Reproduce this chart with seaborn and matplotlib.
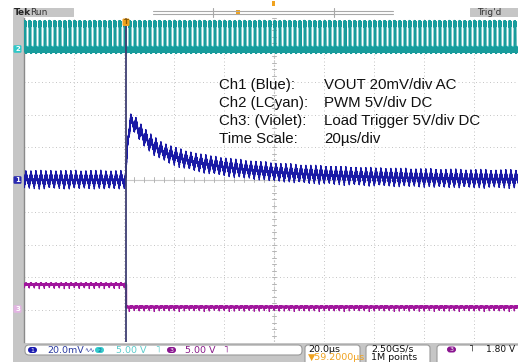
import numpy as np
import matplotlib
matplotlib.use("Agg")
import matplotlib.pyplot as plt
from matplotlib.patches import FancyBboxPatch, Rectangle
import seaborn as sns

# ---------------- values ----------------
time_per_div_us = 20.0
n_xdiv = 10
n_ydiv = 10
trigger_from_left_us = 40.8          # trigger sits 59.2 us left of centre
pwm_period_us = 2.0
pwm_duty = 0.30

ch1_scale_mv = 20.0
ch1_offset_div = 0.0
ch1_ripple_mv = 3.6
ch1_ring_mv = 2.4
ch1_step_amp_mv = [26.0, 21.0]
ch1_step_tau_us = [6.8, 40.0]
ch1_rise_tau_us = 0.9

ch2_scale_v = 5.0
ch2_offset_div = 4.0
ch2_high_v = 4.0
ch2_ring_v = 0.55

ch3_scale_v = 5.0
ch3_offset_div = -4.0
ch3_levels_v = [3.9, 0.4]            # before / after the load trigger
ch3_ring_v = 0.22
ch3_glitch_v = 0.55

annotation_labels = ["Ch1 (Blue):", "Ch2 (LCyan):", "Ch3: (Violet):", "Time Scale:"]
annotation_values = ["VOUT 20mV/div AC", "PWM 5V/div DC", "Load Trigger 5V/div DC", "20\u00b5s/div"]

readout_ch1 = "20.0mV"
readout_ch2 = "5.00 V"
readout_ch3 = "5.00 V"
readout_time = ["20.0\u00b5s", "\u25bc59.2000\u00b5s"]
readout_rate = ["2.50GS/s", "1M points"]
readout_trig = "1.80 V"

# colours
C_BLUE = "#1a1aa6"
C_CYAN = "#189c9c"
C_CYAN_LT = "#45dcdc"
C_VIOLET = "#a0159c"
C_GRAY = "#c6c6c6"
C_ORANGE = "#f0a21e"

# ---------------- waveforms ----------------
dt = 0.01
t = np.arange(-trigger_from_left_us, n_xdiv * time_per_div_us - trigger_from_left_us + dt, dt)
ph = np.mod(t + 0.7, pwm_period_us) / pwm_period_us
since_on = ph * pwm_period_us
since_off = np.mod(ph - pwm_duty, 1.0) * pwm_period_us
since_edge = np.minimum(since_on, since_off)
ring_fast = (0.35 + 0.65 * np.exp(-since_edge / 0.4)) * np.sin(2 * np.pi * t / 0.033)
ring_slow = (0.5 + 0.5 * np.exp(-since_edge / 0.6)) * np.sin(2 * np.pi * t / 0.047)

tri = np.where(ph < pwm_duty, -1 + 2 * ph / pwm_duty, 1 - 2 * (ph - pwm_duty) / (1 - pwm_duty))
tp = np.clip(t, 0, None)
step = (ch1_step_amp_mv[0] * np.exp(-tp / ch1_step_tau_us[0]) +
        ch1_step_amp_mv[1] * np.exp(-tp / ch1_step_tau_us[1])) * (1 - np.exp(-tp / ch1_rise_tau_us))
step = np.where(t >= 0, step, 0.0)
ch1_mv = ch1_ripple_mv * tri + ch1_ring_mv * ring_fast + step
y1 = ch1_offset_div + ch1_mv / ch1_scale_mv

ch2_v = np.where(ph < pwm_duty, ch2_high_v, 0.0) + ch2_ring_v * ring_slow
y2 = ch2_offset_div + ch2_v / ch2_scale_v

ch3_v = (np.where(t < 0, ch3_levels_v[0], ch3_levels_v[1]) + ch3_ring_v * ring_fast
         - ch3_glitch_v * np.exp(-since_on / 0.08))
y3 = ch3_offset_div + ch3_v / ch3_scale_v

# ---------------- figure ----------------
sns.set_style("white")
plt.rcParams["font.family"] = ["Liberation Sans", "DejaVu Sans"]

W, H = 518, 362
fig = plt.figure(figsize=(W / 100, H / 100), dpi=100)
fig.patch.set_facecolor("white")

bg = fig.add_axes([0, 0, 1, 1], zorder=0)
bg.set_xlim(0, W); bg.set_ylim(H, 0); bg.axis("off")
bg.add_patch(Rectangle((13, 8), 11, 338, color=C_GRAY, lw=0))
bg.add_patch(Rectangle((13, 343), W - 13, 19, color=C_GRAY, lw=0))

# main scope screen
x0, x1 = 24, 524
ytop, ybot = 17.5, 342
ax = fig.add_axes([x0 / W, (H - ybot) / H, (x1 - x0) / W, (ybot - ytop) / H], zorder=1)
ax.set_facecolor("white")
xmin = -trigger_from_left_us
xmax = xmin + n_xdiv * time_per_div_us
ax.set_xlim(xmin, xmax)
ax.set_ylim(-n_ydiv / 2, n_ydiv / 2)
ax.set_xticks([]); ax.set_yticks([])
for s in ["top", "right", "bottom"]:
    ax.spines[s].set_visible(False)
ax.spines["left"].set_color("#8a8a8a")
ax.spines["left"].set_linewidth(1.0)

grid_kw = dict(color="#c4c4c4", lw=0.7, ls=(0, (1, 2.6)), zorder=1)
for k in range(1, n_xdiv):
    ax.axvline(xmin + k * time_per_div_us, **grid_kw)
for k in range(-n_ydiv // 2 + 1, n_ydiv // 2):
    ax.axhline(k, **grid_kw)
# centre cross with 1/5 div ticks
xc = xmin + n_xdiv * time_per_div_us / 2
ax.axhline(0, color="#c8c8c8", lw=0.8, zorder=1)
ax.axvline(xc, color="#c8c8c8", lw=0.8, ls=(0, (2, 2)), zorder=1)
for k in range(n_xdiv * 5 + 1):
    xx = xmin + k * time_per_div_us / 5
    ax.plot([xx, xx], [-0.07, 0.07], color="#b4b4b4", lw=0.7, zorder=1)
for k in range(-n_ydiv * 5 // 2, n_ydiv * 5 // 2 + 1):
    ax.plot([xc - 0.7, xc + 0.7], [k / 5, k / 5], color="#b4b4b4", lw=0.7, zorder=1)

ax.axhline(ch2_offset_div + 0.02, color=C_CYAN_LT, lw=4.6, alpha=0.9, zorder=2)
sns.lineplot(x=t, y=y2, ax=ax, color=C_CYAN, lw=1.1, estimator=None, sort=False, zorder=3)
sns.lineplot(x=t, y=y3, ax=ax, color=C_VIOLET, lw=0.9, estimator=None, sort=False, zorder=3)
ax.plot([0, 0], [ch3_offset_div + ch3_levels_v[1] / ch3_scale_v,
                 ch3_offset_div + ch3_levels_v[0] / ch3_scale_v], color=C_VIOLET, lw=1.0, zorder=3)
sns.lineplot(x=t, y=y1, ax=ax, color=C_BLUE, lw=0.9, estimator=None, sort=False, zorder=4)
ax.axvline(0, color="#3e3e72", lw=1.3, zorder=5)
if ax.get_legend():
    ax.get_legend().remove()

# ---------------- overlay (pixel coordinates) ----------------
fg = fig.add_axes([0, 0, 1, 1], zorder=3)
fg.set_xlim(0, W); fg.set_ylim(H, 0); fg.axis("off"); fg.patch.set_alpha(0)

def rbox(x, y, w, h, fc, ec="none", r=2.0, lw=0.8):
    fg.add_patch(FancyBboxPatch((x, y), w, h, boxstyle=f"round,pad=0,rounding_size={r}",
                                fc=fc, ec=ec, lw=lw, mutation_aspect=1))

# top bar
rbox(13, 8, 61, 9, C_GRAY, r=0.5)
fg.text(14, 12.8, "Tek", fontsize=6.5, weight="bold", family="DejaVu Sans", va="center")
fg.text(30, 12.8, "Run", fontsize=6.5, family="DejaVu Sans", va="center", color="#333333")
fg.plot([153, 393], [11, 11], color="#a8a8a8", lw=0.8)
fg.plot([153, 393], [13.5, 13.5], color="#a8a8a8", lw=0.8)
fg.plot([213, 213], [8, 17], color="#a8a8a8", lw=0.8)
fg.plot([334, 334], [8, 17], color="#a8a8a8", lw=0.8)
fg.add_patch(Rectangle((236, 9.5), 4, 5, color=C_ORANGE, lw=0))
fg.add_patch(Rectangle((272, 0.5), 2.5, 5, color=C_ORANGE, lw=0))
rbox(470, 8, 50, 9, C_GRAY, r=0.5)
fg.text(477, 12.8, "Trig'd", fontsize=6.5, family="DejaVu Sans", va="center", color="#333333")

# trigger position marker
rbox(122.5, 18.5, 7, 7.5, C_ORANGE, r=1.2)
fg.text(126, 22.4, "T", fontsize=5, weight="bold", ha="center", va="center", color="#8a5a00",
        family="DejaVu Sans")

# channel ground markers
for yy, fc, txt in [(49, "#30c8c8", "2"), (180, "#2a2ab0", "1"), (309, "#e2b4e2", "3")]:
    rbox(13.5, yy - 3.8, 8, 7.6, fc, r=1.2)
    fg.text(17.5, yy + 0.3, txt, fontsize=5, weight="bold", ha="center", va="center",
            color="white", family="DejaVu Sans")

# annotation text
for i, (lab, val) in enumerate(zip(annotation_labels, annotation_values)):
    yy = 85 + 18 * i
    fg.text(219, yy, lab, fontsize=10.8, va="center", color="#111111")
    fg.text(324, yy, val, fontsize=10.8, va="center", color="#111111")

# bottom readouts
rbox(25, 345, 277, 10, "white", ec="#9a9a9a", r=4)
fg.add_patch(FancyBboxPatch((28, 347), 9, 6, boxstyle="round,pad=0,rounding_size=3", fc="#1a1ab0", ec="none"))
fg.text(32.5, 350.2, "1", fontsize=4.5, color="white", ha="center", va="center", family="DejaVu Sans")
fg.text(47, 350.3, readout_ch1, fontsize=6.8, color="#2a3aa0", va="center", family="DejaVu Sans")
fg.text(84, 350.3, "\u223f\u223f", fontsize=4.5, color="#2a3aa0", va="center", family="DejaVu Sans")
fg.add_patch(FancyBboxPatch((95, 347), 9, 6, boxstyle="round,pad=0,rounding_size=3", fc="#35cccc", ec="none"))
fg.text(99.5, 350.2, "2", fontsize=4.5, color="#1a5a9a", ha="center", va="center", family="DejaVu Sans")
fg.text(116, 350.3, readout_ch2, fontsize=6.8, color="#5ccccc", va="center", family="DejaVu Sans")
fg.text(155, 350.3, "\u02e5", fontsize=6.5, color="#5ccccc", va="center", family="DejaVu Sans")
fg.add_patch(FancyBboxPatch((167, 347), 9, 6, boxstyle="round,pad=0,rounding_size=3", fc="#8a1590", ec="none"))
fg.text(171.5, 350.2, "3", fontsize=4.5, color="white", ha="center", va="center", family="DejaVu Sans")
fg.text(185, 350.3, readout_ch3, fontsize=6.8, color="#8a1a8a", va="center", family="DejaVu Sans")
fg.text(223, 350.3, "\u02e5", fontsize=6.5, color="#8a1a8a", va="center", family="DejaVu Sans")

rbox(305, 345, 55, 20, "white", ec="#9a9a9a", r=3)
fg.text(308, 349.5, readout_time[0], fontsize=6.8, va="center", color="#111111", family="DejaVu Sans")
fg.text(308, 357.5, readout_time[1], fontsize=6.8, va="center", color=C_ORANGE, family="DejaVu Sans")
rbox(366, 345, 64, 20, "white", ec="#9a9a9a", r=3)
fg.text(371, 349.5, readout_rate[0], fontsize=6.8, va="center", color="#111111", family="DejaVu Sans")
fg.text(371, 357.5, readout_rate[1], fontsize=6.8, va="center", color="#111111", family="DejaVu Sans")
rbox(437, 345, 90, 20, "white", ec="#9a9a9a", r=3)
fg.add_patch(FancyBboxPatch((447, 346.5), 9, 6, boxstyle="round,pad=0,rounding_size=3", fc="#8a1590", ec="none"))
fg.text(451.5, 349.7, "3", fontsize=4.5, color="white", ha="center", va="center", family="DejaVu Sans")
fg.text(469, 349.5, "\u02e5", fontsize=6.8, va="center", color="#111111", family="DejaVu Sans")
fg.text(486, 349.5, readout_trig, fontsize=6.5, va="center", color="#111111", family="DejaVu Sans")

fig.savefig("out.png", dpi=100)
